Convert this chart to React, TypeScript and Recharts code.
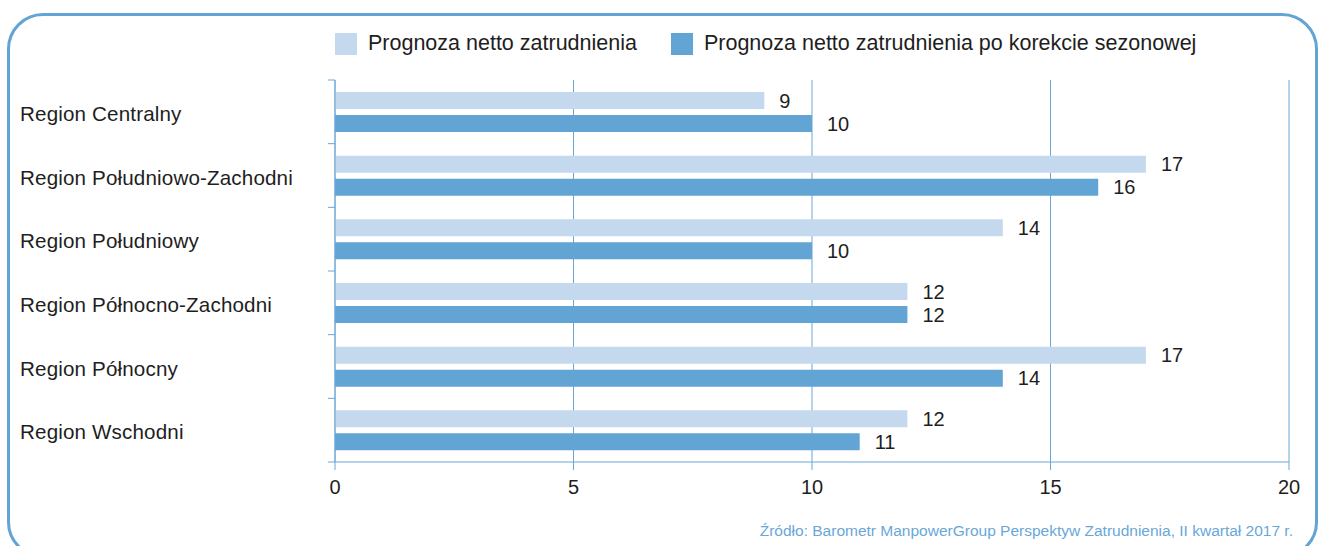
import React from 'react';
import { BarChart, Bar, XAxis, YAxis, CartesianGrid, LabelList } from 'recharts';

const categories = [
  'Region Centralny',
  'Region Południowo-Zachodni',
  'Region Południowy',
  'Region Północno-Zachodni',
  'Region Północny',
  'Region Wschodni',
];
const netForecast = [9, 17, 14, 12, 17, 12];
const seasonallyAdjusted = [10, 16, 10, 12, 14, 11];
const xTicks = [0, 5, 10, 15, 20];
const seriesNames = ['Prognoza netto zatrudnienia', 'Prognoza netto zatrudnienia po korekcie sezonowej'];
const sourceText = 'Źródło: Barometr ManpowerGroup Perspektyw Zatrudnienia, II kwartał 2017 r.';

const data = categories.map((name, i) => ({
  name,
  a: netForecast[i],
  b: seasonallyAdjusted[i],
}));

const W = 1319;
const H = 546;
const M = { top: 80, right: 30, bottom: 54, left: 275 };
const Y_AXIS_W = 60;
const X_AXIS_H = 30;
const plotH = H - M.top - M.bottom - X_AXIS_H;
const band = plotH / categories.length;

const LIGHT = '#c5d9ee';
const DARK = '#62a4d4';
const AXIS = '#6aa6d6';
const TEXT = '#1e1e1e';
const FONT = '"Liberation Sans", Arial, Helvetica, sans-serif';

const YTick = (props: any) => {
  const { x, y, payload, index } = props;
  const half = band / 2;
  const axisX = x + 8;
  return (
    <g>
      <line x1={axisX - 7} x2={axisX} y1={y - half} y2={y - half} stroke={AXIS} strokeWidth={1} />
      {index === categories.length - 1 && (
        <line x1={axisX - 7} x2={axisX} y1={y + half} y2={y + half} stroke={AXIS} strokeWidth={1} />
      )}
      <text x={20} y={y} dy={9} textAnchor="start" fill={TEXT} fontSize={20.6} letterSpacing={0.15} fontFamily={FONT}>
        {payload.value}
      </text>
    </g>
  );
};

export default function App() {
  return (
    <div style={{ position: 'absolute', left: 0, top: 0, width: W, height: H, overflow: 'hidden', background: '#fff', fontFamily: FONT }}>
      <div
        style={{
          position: 'absolute',
          left: 7,
          top: 13,
          width: 1311,
          height: 545,
          border: `3px solid ${DARK}`,
          borderRadius: 36,
          boxSizing: 'border-box',
        }}
      />
      <div style={{ position: 'absolute', left: 335, top: 31, display: 'flex', alignItems: 'center', fontSize: 21.5, color: TEXT, whiteSpace: 'nowrap' }}>
        <span style={{ display: 'inline-block', width: 22, height: 22, background: LIGHT, marginRight: 11 }} />
        <span style={{ marginRight: 34 }}>{seriesNames[0]}</span>
        <span style={{ display: 'inline-block', width: 22, height: 22, background: DARK, marginRight: 11 }} />
        <span>{seriesNames[1]}</span>
      </div>
      <div style={{ position: 'absolute', left: 0, top: 0 }}>
        <BarChart
          width={W}
          height={H}
          data={data}
          layout="vertical"
          margin={M}
          barGap={6}
          barSize={17}
        >
          <CartesianGrid horizontal={false} vertical={true} stroke={AXIS} strokeWidth={1} />
          <XAxis
            type="number"
            domain={[0, 20]}
            ticks={xTicks}
            height={X_AXIS_H}
            axisLine={{ stroke: AXIS }}
            tickLine={{ stroke: AXIS }}
            tickSize={8}
            tickMargin={10}
            tick={{ fill: TEXT, fontSize: 20, fontFamily: FONT }}
            interval={0}
          />
          <YAxis
            type="category"
            dataKey="name"
            width={Y_AXIS_W}
            axisLine={{ stroke: AXIS }}
            tickLine={false}
            tick={<YTick />}
            interval={0}
          />
          <Bar dataKey="a" name={seriesNames[0]} fill={LIGHT} isAnimationActive={false}>
            <LabelList dataKey="a" position="right" offset={15} fill={TEXT} fontSize={20} fontFamily={FONT} />
          </Bar>
          <Bar dataKey="b" name={seriesNames[1]} fill={DARK} isAnimationActive={false}>
            <LabelList dataKey="b" position="right" offset={15} fill={TEXT} fontSize={20} fontFamily={FONT} />
          </Bar>
        </BarChart>
      </div>
      <div style={{ position: 'absolute', right: 26, top: 522, fontSize: 15.5, color: '#6aa7d8', whiteSpace: 'nowrap' }}>
        {sourceText}
      </div>
    </div>
  );
}
